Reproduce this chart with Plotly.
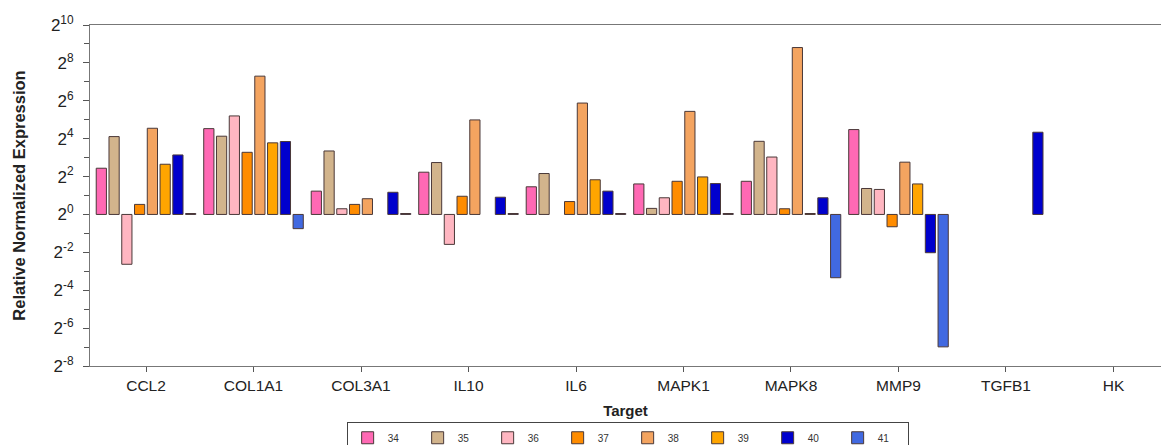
import plotly.graph_objects as go

targets = ["CCL2", "COL1A1", "COL3A1", "IL10", "IL6", "MAPK1", "MAPK8", "MMP9", "TGFB1", "HK"]

# log2 of relative normalized expression, per sample
s34 = [2.44, 4.53, 1.23, 2.23, 1.46, 1.61, 1.75, 4.48, None, None]
s35 = [4.11, 4.13, 3.35, 2.74, 2.16, 0.32, 3.86, 1.37, None, None]
s36 = [-2.63, 5.20, 0.30, -1.58, None, 0.88, 3.03, 1.32, None, None]
s37 = [0.53, 3.28, 0.53, 0.96, 0.68, 1.75, 0.30, -0.65, None, None]
s38 = [4.55, 7.30, 0.83, 4.99, 5.88, 5.44, 8.81, 2.76, None, None]
s39 = [2.65, 3.78, None, None, 1.83, 1.98, 0.05, 1.61, None, None]
s40 = [3.14, 3.85, 1.17, 0.91, 1.23, 1.63, 0.88, -2.02, 4.34, None]
s41 = [0.05, -0.75, 0.05, 0.05, 0.05, 0.05, -3.34, -6.99, None, None]

series_names = ["34", "35", "36", "37", "38", "39", "40", "41"]
series_values = [s34, s35, s36, s37, s38, s39, s40, s41]
colors = ["#FF69B4", "#D2B48C", "#FFB6C1", "#FF8C00", "#F4A460", "#FFA500", "#0000CD", "#4169E1"]

tick_exponents = [-8, -6, -4, -2, 0, 2, 4, 6, 8, 10]
tick_labels = ["2<sup>%d</sup>" % e for e in tick_exponents]

fig = go.Figure()
for name, vals, col in zip(series_names, series_values, colors):
    fig.add_trace(go.Bar(
        x=targets, y=vals, name=name,
        marker=dict(color=col, line=dict(color="#4a3838", width=1)),
    ))

font_family = "Arial, Liberation Sans, sans-serif"
fig.update_layout(
    width=1161, height=445,
    margin=dict(l=90, r=0, t=25, b=79, autoexpand=False),
    paper_bgcolor="white", plot_bgcolor="white",
    barmode="group", bargap=0.05, bargroupgap=0.2,
    font=dict(family=font_family, color="#222"),
    showlegend=True,
    legend=dict(
        orientation="h", x=0.502, xanchor="center", y=-0.165, yanchor="top",
        bordercolor="#444", borderwidth=1, bgcolor="white",
        font=dict(size=10, color="#333"),
        itemwidth=30, entrywidth=25, tracegroupgap=0,
    ),
    xaxis=dict(
        range=[-0.521, 9.442], automargin=False,
        showline=True, linecolor="#777", linewidth=1, mirror=True,
        ticks="outside", ticklen=5, tickcolor="#555",
        tickfont=dict(size=15.5, color="#222"),
        title=dict(text="<b>Target</b>", font=dict(size=15, color="#222"), standoff=12),
        showgrid=False, zeroline=False,
    ),
    yaxis=dict(
        range=[-8, 10], automargin=False,
        tickmode="array", tickvals=tick_exponents, ticktext=tick_labels,
        showline=True, linecolor="#777", linewidth=1,
        ticks="outside", ticklen=6, tickcolor="#555",
        minor=dict(dtick=1, ticks="outside", ticklen=5, tickcolor="#555", showgrid=False),
        tickfont=dict(size=17, color="#222"),
        ticklabelstandoff=6,
        title=dict(text="<b>Relative Normalized Expression</b>", font=dict(size=16.5, color="#222"), standoff=21),
        showgrid=False, zeroline=False,
    ),
)

fig.write_html(
    "out.html",
    config={"displayModeBar": False},
    post_script="document.body.style.margin='0';document.body.style.overflow='hidden';",
)
